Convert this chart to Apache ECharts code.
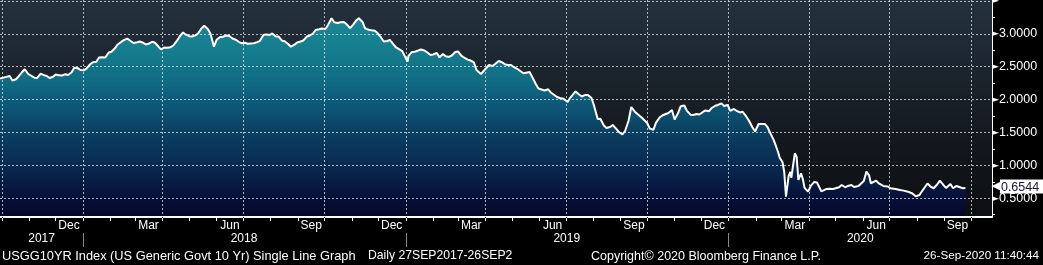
<!DOCTYPE html>
<html><head><meta charset="utf-8">
<script src="https://cdn.jsdelivr.net/npm/echarts@6/dist/echarts.min.js"></script>
<style>html,body{margin:0;padding:0;background:#000;overflow:hidden}#c{width:1043px;height:265px}</style>
</head><body><div id="c"></div>
<script>
const dates = [
'2017-09-29','2017-10-03','2017-10-06','2017-10-10','2017-10-13','2017-10-17','2017-10-20','2017-10-24','2017-10-27','2017-10-31',
'2017-11-03','2017-11-07','2017-11-10','2017-11-14','2017-11-17','2017-11-21','2017-11-24','2017-11-28','2017-12-01','2017-12-05',
'2017-12-08','2017-12-12','2017-12-15','2017-12-19','2017-12-22','2017-12-26','2017-12-29','2018-01-02','2018-01-05','2018-01-09',
'2018-01-12','2018-01-16','2018-01-19','2018-01-23','2018-01-26','2018-01-30','2018-02-02','2018-02-06','2018-02-09','2018-02-13',
'2018-02-16','2018-02-20','2018-02-23','2018-02-27','2018-03-02','2018-03-06','2018-03-09','2018-03-13','2018-03-16','2018-03-20',
'2018-03-23','2018-03-27','2018-03-30','2018-04-03','2018-04-06','2018-04-10','2018-04-13','2018-04-17','2018-04-20','2018-04-24',
'2018-04-27','2018-05-01','2018-05-04','2018-05-08','2018-05-11','2018-05-15','2018-05-18','2018-05-22','2018-05-25','2018-05-29',
'2018-06-01','2018-06-05','2018-06-08','2018-06-12','2018-06-15','2018-06-19','2018-06-22','2018-06-26','2018-06-29','2018-07-03',
'2018-07-06','2018-07-10','2018-07-13','2018-07-17','2018-07-20','2018-07-24','2018-07-27','2018-07-31','2018-08-03','2018-08-07',
'2018-08-10','2018-08-14','2018-08-17','2018-08-21','2018-08-24','2018-08-28','2018-08-31','2018-09-04','2018-09-07','2018-09-11',
'2018-09-14','2018-09-18','2018-09-21','2018-09-25','2018-09-28','2018-10-02','2018-10-05','2018-10-09','2018-10-12','2018-10-16',
'2018-10-19','2018-10-23','2018-10-26','2018-10-30','2018-11-02','2018-11-06','2018-11-09','2018-11-13','2018-11-16','2018-11-20',
'2018-11-23','2018-11-27','2018-11-30','2018-12-04','2018-12-07','2018-12-11','2018-12-14','2018-12-18','2018-12-21','2018-12-28',
'2019-01-03','2019-01-04','2019-01-08','2019-01-11','2019-01-15','2019-01-18','2019-01-22','2019-01-25','2019-01-29','2019-02-01',
'2019-02-05','2019-02-08','2019-02-12','2019-02-15','2019-02-19','2019-02-22','2019-02-26','2019-03-01','2019-03-05','2019-03-08',
'2019-03-12','2019-03-15','2019-03-19','2019-03-22','2019-03-27','2019-03-29','2019-04-05','2019-04-09','2019-04-12','2019-04-16',
'2019-04-19','2019-04-23','2019-04-26','2019-04-30','2019-05-03','2019-05-07','2019-05-10','2019-05-14','2019-05-17','2019-05-21',
'2019-05-24','2019-05-28','2019-05-31','2019-06-07','2019-06-11','2019-06-14','2019-06-18','2019-06-21','2019-06-25','2019-06-28',
'2019-07-03','2019-07-05','2019-07-12','2019-07-16','2019-07-19','2019-07-23','2019-07-26','2019-07-30','2019-08-02','2019-08-06',
'2019-08-09','2019-08-13','2019-08-16','2019-08-20','2019-08-23','2019-08-27','2019-08-30','2019-09-03','2019-09-06','2019-09-10',
'2019-09-13','2019-09-17','2019-09-20','2019-09-24','2019-09-27','2019-10-01','2019-10-04','2019-10-08','2019-10-11','2019-10-15',
'2019-10-18','2019-10-22','2019-10-25','2019-10-29','2019-11-01','2019-11-05','2019-11-08','2019-11-12','2019-11-15','2019-11-19',
'2019-11-22','2019-11-26','2019-11-29','2019-12-03','2019-12-06','2019-12-10','2019-12-13','2019-12-17','2019-12-20','2019-12-24',
'2019-12-27','2019-12-31','2020-01-03','2020-01-07','2020-01-10','2020-01-14','2020-01-17','2020-01-21','2020-01-24','2020-01-28',
'2020-01-31','2020-02-04','2020-02-07','2020-02-11','2020-02-14','2020-02-18','2020-02-21','2020-02-24','2020-02-26','2020-02-28',
'2020-03-02','2020-03-04','2020-03-06','2020-03-09','2020-03-11','2020-03-12','2020-03-16','2020-03-18','2020-03-19','2020-03-20',
'2020-03-23','2020-03-25','2020-03-27','2020-03-31','2020-04-03','2020-04-07','2020-04-10','2020-04-15','2020-04-17','2020-04-21',
'2020-04-24','2020-04-28','2020-05-01','2020-05-05','2020-05-08','2020-05-12','2020-05-15','2020-05-19','2020-05-22','2020-05-27',
'2020-05-29','2020-06-02','2020-06-05','2020-06-08','2020-06-10','2020-06-12','2020-06-16','2020-06-19','2020-06-24','2020-06-29',
'2020-07-02','2020-07-08','2020-07-13','2020-07-17','2020-07-22','2020-07-27','2020-07-31','2020-08-04','2020-08-07','2020-08-11',
'2020-08-13','2020-08-17','2020-08-20','2020-08-24','2020-08-27','2020-08-31','2020-09-03','2020-09-08','2020-09-11','2020-09-15',
'2020-09-18','2020-09-22','2020-09-25'
];
const values = [
2.319,2.334,2.346,2.358,2.291,2.310,2.352,2.420,2.462,2.390,
2.364,2.334,2.329,2.396,2.375,2.360,2.329,2.348,2.382,2.369,
2.367,2.387,2.375,2.416,2.484,2.478,2.451,2.446,2.474,2.538,
2.569,2.577,2.641,2.645,2.641,2.717,2.728,2.781,2.839,2.877,
2.904,2.928,2.899,2.861,2.867,2.883,2.869,2.839,2.849,2.880,
2.869,2.811,2.763,2.793,2.788,2.798,2.823,2.892,2.956,3.021,
2.991,2.965,2.959,2.977,3.006,3.083,3.124,3.074,3.006,2.805,
2.910,2.953,2.956,2.975,2.972,2.930,2.915,2.880,2.858,2.866,
2.849,2.855,2.857,2.874,2.895,2.983,2.992,2.983,3.006,2.960,
2.960,2.896,2.889,2.846,2.805,2.836,2.869,2.884,2.899,2.959,
2.971,3.006,3.059,3.071,3.082,3.074,3.135,3.237,3.176,3.166,
3.176,3.181,3.147,3.089,3.132,3.205,3.238,3.181,3.082,3.062,
3.055,3.048,3.013,2.945,2.884,2.892,2.907,2.839,2.793,2.737,
2.577,2.664,2.725,2.729,2.747,2.763,2.747,2.720,2.679,2.687,
2.709,2.646,2.694,2.659,2.649,2.671,2.725,2.732,2.664,2.638,
2.609,2.595,2.565,2.451,2.390,2.413,2.527,2.512,2.542,2.588,
2.573,2.539,2.527,2.527,2.497,2.469,2.440,2.401,2.410,2.420,
2.345,2.238,2.170,2.139,2.157,2.109,2.071,2.040,2.021,2.018,
1.964,2.010,2.124,2.078,2.048,2.071,2.071,2.025,1.904,1.706,
1.710,1.606,1.569,1.584,1.614,1.554,1.508,1.470,1.523,1.683,
1.888,1.817,1.782,1.736,1.698,1.645,1.560,1.539,1.650,1.729,
1.759,1.782,1.797,1.843,1.698,1.797,1.900,1.911,1.828,1.771,
1.767,1.782,1.774,1.812,1.835,1.824,1.873,1.907,1.919,1.943,
1.904,1.919,1.828,1.858,1.831,1.805,1.815,1.744,1.683,1.580,
1.516,1.630,1.630,1.630,1.584,1.470,1.387,1.280,1.204,1.113,
1.052,0.900,0.524,0.839,0.900,0.809,1.184,1.133,0.961,0.778,
0.880,0.794,0.657,0.600,0.687,0.748,0.740,0.604,0.611,0.642,
0.645,0.642,0.652,0.667,0.702,0.667,0.687,0.702,0.672,0.687,
0.687,0.763,0.905,0.847,0.728,0.702,0.768,0.725,0.687,0.680,
0.652,0.642,0.626,0.616,0.600,0.573,0.528,0.550,0.611,0.687,
0.725,0.672,0.652,0.710,0.768,0.702,0.657,0.718,0.652,0.687,
0.672,0.652,0.6544
];
const yLabelValues = [0.5, 1.0, 1.5, 2.0, 2.5, 3.0, 3.5];
const yMinorTicks = [0.25, 0.75, 1.25, 1.75, 2.25, 2.75, 3.25];
const gridQuarterDates = ['2017-10-01','2018-01-01','2018-04-01','2018-07-01','2018-10-01','2019-01-01','2019-04-01','2019-07-01','2019-10-01','2020-01-01','2020-04-01','2020-07-01','2020-10-01'];
const monthLabelDates = ['2017-12-16','2018-03-16','2018-06-16','2018-09-16','2018-12-16','2019-03-16','2019-06-16','2019-09-16','2019-12-16','2020-03-16','2020-06-16','2020-09-16'];
const monthLabelNames = ['Dec','Mar','Jun','Sep','Dec','Mar','Jun','Sep','Dec','Mar','Jun','Sep'];
const yearSeparatorDates = ['2018-01-01','2019-01-01','2020-01-01'];
const yearLabelDates = ['2017-11-15','2018-07-02','2019-07-02','2020-05-29'];
const yearLabelNames = ['2017','2018','2019','2020'];
const axisStart = '2017-09-29', axisEnd = '2020-10-25';
const footerLeft = 'USGG10YR Index (US Generic Govt 10 Yr) Single Line Graph';
const footerRange = 'Daily 27SEP2017-26SEP2';
const footerCopy = 'Copyright\u00A9 2020 Bloomberg Finance L.P.';
const footerTime = '26-Sep-2020 11:40:44';

function ts(s){ const p = s.split('-').map(Number); return new Date(p[0], p[1]-1, p[2]).getTime(); }

const seriesData = dates.map((d, i) => [ts(d), values[i]]);
const monthTicks = [];
for (let y = 2017, m = 9; y < 2020 || (y === 2020 && m <= 9); ) { monthTicks.push(new Date(y, m, 1).getTime()); m++; if (m > 11) { m = 0; y++; } }
const monthLabelTs = monthLabelDates.map(ts);
const yearLabelTs = yearLabelDates.map(ts);
const FONT = 'Liberation Sans';
const GRID_LINE = { color: 'rgba(215,222,228,0.8)', width: 1, type: [2, 2] };

const chart = echarts.init(document.getElementById('c'), null, { renderer: 'canvas', width: 1043, height: 265 });
chart.setOption({
  backgroundColor: '#000',
  animation: false,
  grid: {
    left: 0, right: 51, top: 0, bottom: 48, show: true, borderWidth: 0,
    outerBoundsMode: 'none', containLabel: false,
    backgroundColor: { type: 'linear', x: 0, y: 0, x2: 0, y2: 1, colorStops: [
      { offset: 0, color: '#24313e' }, { offset: 0.6, color: '#151a20' }, { offset: 1, color: '#0c0e11' }] }
  },
  xAxis: [{
    type: 'value', min: ts(axisStart), max: ts(axisEnd), z: 6,
    axisLine: { show: true, onZero: false, lineStyle: { color: '#fff', width: 2 } },
    axisTick: { show: true, customValues: monthTicks, length: 4, lineStyle: { color: '#fff', width: 1 } },
    axisLabel: { show: true, customValues: monthLabelTs, margin: 3, color: '#fff', fontFamily: FONT, fontSize: 12,
      formatter: v => { const i = monthLabelTs.indexOf(v); return i >= 0 ? monthLabelNames[i] : ''; } },
    splitLine: { show: false }
  }, {
    type: 'value', min: ts(axisStart), max: ts(axisEnd), position: 'bottom', offset: 16,
    axisLine: { show: false, onZero: false },
    axisTick: { show: true, customValues: yearSeparatorDates.map(ts), length: 14, lineStyle: { color: '#8a8a8a', width: 1 } },
    axisLabel: { show: true, customValues: yearLabelTs, margin: 0, color: '#fff', fontFamily: FONT, fontSize: 12,
      formatter: v => { const i = yearLabelTs.indexOf(v); return i >= 0 ? yearLabelNames[i] : ''; } },
    splitLine: { show: false }
  }, {
    type: 'value', min: ts(axisStart), max: ts(axisEnd), position: 'bottom', z: 6,
    axisLine: { show: false, onZero: false },
    axisTick: { show: true, customValues: gridQuarterDates.map(ts), length: 1, lineStyle: { color: '#000' } },
    axisLabel: { show: false },
    splitLine: { show: true, lineStyle: GRID_LINE }
  }],
  yAxis: [{
    type: 'value', position: 'right', min: 0.215, max: 3.515, z: 6,
    axisLine: { show: true, onZero: false, lineStyle: { color: '#fff', width: 1 } },
    axisTick: { show: true, customValues: yLabelValues, length: 1, lineStyle: { color: '#fff' } },
    axisLabel: { show: true, customValues: yLabelValues, margin: 0, align: 'left',
      formatter: v => '{t|\u25BA}' + (Math.abs(v - 3.5) < 1e-9 ? '' : '{v|' + v.toFixed(4) + '}'),
      rich: { t: { color: '#fff', fontSize: 9, fontFamily: 'DejaVu Sans' }, v: { color: '#fff', fontSize: 12.5, fontFamily: FONT } } },
    splitLine: { show: true, lineStyle: GRID_LINE }
  }, {
    type: 'value', position: 'right', min: 0.215, max: 3.515, z: 6,
    axisLine: { show: false, onZero: false },
    axisTick: { show: true, customValues: yMinorTicks, length: 3, lineStyle: { color: '#fff' } },
    axisLabel: { show: false },
    splitLine: { show: false }
  }],
  series: [{
    type: 'line', data: seriesData, showSymbol: false, z: 2,
    lineStyle: { width: 0 },
    areaStyle: { opacity: 1, color: { type: 'linear', x: 0, y: 0, x2: 0, y2: 217, global: true, colorStops: [
      { offset: 0, color: '#1a8c9c' }, { offset: 0.2, color: '#16808f' }, { offset: 0.35, color: '#116f86' },
      { offset: 0.46, color: '#0e5c7a' }, { offset: 0.6, color: '#0b4163' }, { offset: 0.76, color: '#092a50' },
      { offset: 0.92, color: '#070f37' }, { offset: 1, color: '#050628' }] } }
  }, {
    type: 'line', data: seriesData, showSymbol: false, z: 10,
    lineStyle: { color: '#fff', width: 2 },
    endLabel: { show: true, distance: 26, offset: [0, -1.5],
      formatter: p => '{a|\u25C0}{b|' + p.value[1].toFixed(4) + '}',
      rich: { a: { color: '#fff', fontSize: 11, fontFamily: 'DejaVu Sans' },
              b: { backgroundColor: '#fff', color: '#14143a', fontSize: 12.5, fontFamily: FONT, padding: [1, 6, 0, 1], lineHeight: 13 } } }
  }],
  graphic: [
    { type: 'text', left: 2, top: 250, style: { text: footerLeft, fill: '#fff', font: '12.8px "Liberation Sans"' } },
    { type: 'text', left: 368, top: 250, style: { text: footerRange, fill: '#fff', font: '12.2px "Liberation Sans"' } },
    { type: 'text', left: 591, top: 250, style: { text: footerCopy, fill: '#fff', font: '12.5px "Liberation Sans"' } },
    { type: 'text', right: 4, top: 250, style: { text: footerTime, fill: '#fff', font: '11.7px "Liberation Sans"' } }
  ]
});
</script>
</body></html>
